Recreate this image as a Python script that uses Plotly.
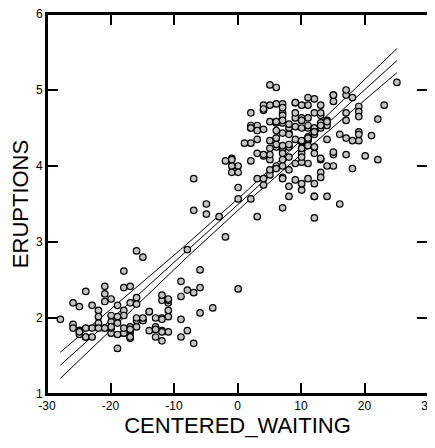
import numpy as np
import plotly.graph_objects as go

# Old Faithful data (eruption duration, waiting time)
eruptions = [3.600,1.800,3.333,2.283,4.533,2.883,4.700,3.600,1.950,4.350,1.833,3.917,4.200,1.750,4.700,2.167,1.750,4.800,1.600,4.250,
1.800,1.750,3.450,3.067,4.533,3.600,1.967,4.083,3.850,4.433,4.300,4.467,3.367,4.033,3.833,2.017,1.867,4.833,1.833,4.783,
4.350,1.883,4.567,1.750,4.533,3.317,3.833,2.100,4.633,2.000,4.800,4.716,1.833,4.833,1.733,4.883,3.717,1.667,4.567,4.317,
2.233,4.500,1.750,4.800,1.817,4.400,4.167,4.700,2.067,4.700,4.033,1.967,4.500,4.000,1.983,5.067,2.017,4.567,3.883,3.600,
4.133,4.333,4.100,2.633,4.067,4.933,3.950,4.517,2.167,4.000,2.200,4.333,1.867,4.817,1.833,4.300,4.667,3.750,1.867,4.900,
2.483,4.367,2.100,4.500,4.050,1.867,4.700,1.783,4.850,3.683,4.733,2.300,4.900,4.417,1.700,4.633,2.317,4.600,1.817,4.417,
2.617,4.067,4.250,1.967,4.600,3.767,1.917,4.500,2.267,4.650,1.867,4.167,2.800,4.333,1.833,4.383,1.883,4.933,2.033,3.733,
4.233,2.233,4.533,4.817,4.333,1.983,4.633,2.017,5.100,1.800,5.033,4.000,2.400,4.600,3.567,4.000,4.500,4.083,1.800,3.967,
2.200,4.150,2.000,3.833,3.500,4.583,2.367,5.000,1.933,4.617,1.917,2.083,4.583,3.333,4.167,4.333,4.500,2.417,4.000,4.167,
1.883,4.583,4.250,3.767,2.033,4.433,4.083,1.833,4.417,2.183,4.800,1.833,4.800,4.100,3.966,4.233,3.500,4.366,2.250,4.667,
2.100,4.350,4.133,1.867,4.600,1.783,4.367,3.850,1.933,4.500,2.383,4.700,1.867,3.833,3.417,4.233,2.400,4.800,2.000,4.150,
1.867,4.267,1.750,4.483,4.000,4.117,4.083,4.267,3.917,4.550,4.083,2.417,4.183,2.217,4.450,1.883,1.850,4.283,3.950,2.333,
4.150,2.350,4.933,2.900,4.583,3.833,2.083,4.367,2.133,4.350,2.200,4.450,3.567,4.500,4.150,3.817,3.917,4.450,2.000,4.283,
4.767,4.533,1.850,4.250,1.983,2.250,4.750,4.117,2.150,4.417,1.817,4.467]

waiting = [79,54,74,62,85,55,88,85,51,85,54,84,78,47,83,52,62,84,52,79,
51,47,78,69,74,83,55,76,78,79,73,77,66,80,74,52,48,80,59,90,
80,58,84,58,73,83,64,53,82,59,75,90,54,80,54,83,71,64,77,81,
59,84,48,82,60,92,78,78,65,73,82,56,79,71,62,76,60,78,76,83,
75,82,70,65,73,88,76,80,48,86,60,90,50,78,63,72,84,75,51,82,
62,88,49,83,81,47,84,52,86,81,75,59,89,79,59,81,50,85,59,87,
53,69,77,56,88,81,45,82,55,90,45,83,56,89,46,82,51,86,53,79,
81,60,82,77,76,59,80,49,96,53,77,77,65,81,71,70,81,93,53,89,
45,86,58,78,66,76,63,88,52,93,49,57,77,68,81,81,73,50,85,74,
55,77,83,83,51,78,84,46,83,55,81,57,76,84,77,81,87,77,51,78,
60,82,91,53,78,46,77,84,49,83,71,80,49,75,64,76,53,94,55,76,
50,82,54,75,78,79,78,78,70,79,70,54,86,50,90,54,54,77,79,64,
75,47,86,63,85,82,57,82,67,74,54,83,73,73,88,80,71,83,56,79,
78,84,58,83,43,60,75,81,46,90,46,74]

x_ticks = [-30, -20, -10, 0, 10, 20, 30]
y_ticks = [1, 2, 3, 4, 5, 6]

w = np.array(waiting, dtype=float)
e = np.array(eruptions, dtype=float)
cw = w - w.mean()

# least squares fit and confidence band for the mean
n = len(cw)
b1 = np.sum(cw * (e - e.mean())) / np.sum(cw ** 2)
b0 = e.mean() - b1 * cw.mean()
resid = e - (b0 + b1 * cw)
s = np.sqrt(np.sum(resid ** 2) / (n - 2))
xs = np.linspace(cw.min(), cw.max(), 60)
fit = b0 + b1 * xs
se = s * np.sqrt(1.0 / n + (xs - cw.mean()) ** 2 / np.sum((cw - cw.mean()) ** 2))
tval = 2.5
lo = fit - tval * se
hi = fit + tval * se

fig = go.Figure()
line_style = dict(color="black", width=1)
for yy in (hi, fit, lo):
    fig.add_trace(go.Scatter(x=xs, y=yy, mode="lines", line=line_style,
                             showlegend=False, hoverinfo="skip"))
fig.add_trace(go.Scatter(x=cw, y=e, mode="markers",
                         marker=dict(size=6.5, color="#c4c4c4",
                                     line=dict(color="black", width=1.2)),
                         showlegend=False))

axis_common = dict(showgrid=False, zeroline=False, showline=True,
                   linecolor="black", linewidth=2, mirror="ticks",
                   ticks="inside", ticklen=11, tickwidth=1.5, tickcolor="black",
                   automargin=False, ticklabeloverflow="allow",
                   tickfont=dict(family="Liberation Sans", size=12, color="black"))

fig.update_xaxes(range=[-30, 30], tickvals=x_ticks,
                 ticktext=[str(v) for v in x_ticks],
                 title=dict(text="CENTERED_WAITING", standoff=3,
                            font=dict(family="Liberation Sans", size=22, color="black")),
                 **axis_common)
fig.update_yaxes(range=[1, 6], tickvals=y_ticks,
                 ticktext=[str(v) for v in y_ticks],
                 title=dict(text="ERUPTIONS", standoff=6,
                            font=dict(family="Liberation Sans", size=22, color="black")),
                 **axis_common)

# frame around the plotting area
fig.add_shape(type="rect", xref="paper", yref="paper", x0=0, y0=0, x1=1, y1=1,
              line=dict(color="black", width=2), layer="above")

# the page body adds an 8 px offset, so the margins are reduced on the top/left
fig.update_layout(width=435, height=448,
                  margin=dict(l=39, r=15, t=6, b=62),
                  paper_bgcolor="white", plot_bgcolor="white",
                  font=dict(family="Liberation Sans", color="black"))

fig.write_html("out.html", config={"displayModeBar": False})
